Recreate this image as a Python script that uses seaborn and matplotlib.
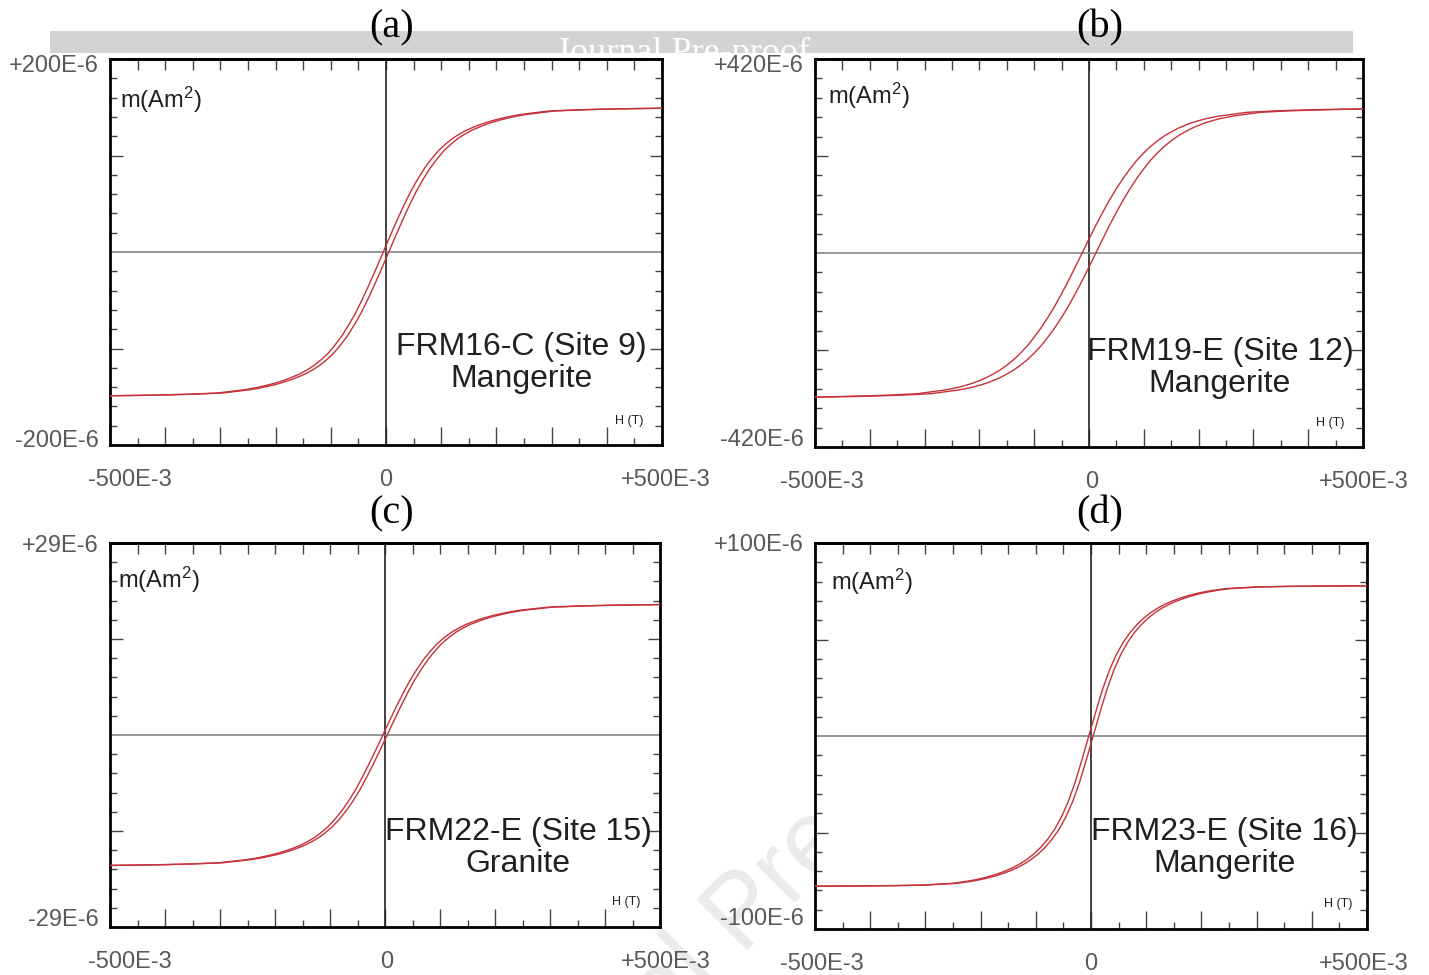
import matplotlib
matplotlib.use("Agg")
import matplotlib.pyplot as plt
import matplotlib.transforms as mtransforms
from matplotlib.patches import Rectangle
import seaborn as sns

sns.set_theme(style="white")
plt.rcParams["font.family"] = ["Liberation Sans", "DejaVu Sans"]
plt.rcParams["mathtext.default"] = "regular"

# ---------------- data ----------------
# applied field H (T) of each measured point, descending and ascending branch
A_H_DESC = [-0.5, -0.455, -0.405, -0.355, -0.305, -0.255, -0.2425, -0.23, -0.2175, -0.205, -0.1925,
            -0.18, -0.1675, -0.155, -0.1425, -0.13, -0.1175, -0.105, -0.0925, -0.08, -0.0675, -0.055,
            -0.0425, -0.03, -0.0175, -0.005, 0.0075, 0.02, 0.0325, 0.045, 0.0575, 0.07, 0.0825, 0.095,
            0.1075, 0.12, 0.1325, 0.145, 0.1575, 0.17, 0.1825, 0.195, 0.2075, 0.22, 0.2325, 0.245,
            0.295, 0.345, 0.395, 0.445, 0.5]
A_H_ASC = [-0.5, -0.445, -0.395, -0.345, -0.295, -0.245, -0.2325, -0.22, -0.2075, -0.195, -0.1825,
           -0.17, -0.1575, -0.145, -0.1325, -0.12, -0.1075, -0.095, -0.0825, -0.07, -0.0575, -0.045,
           -0.0325, -0.02, -0.0075, 0.005, 0.0175, 0.03, 0.0425, 0.055, 0.0675, 0.08, 0.0925, 0.105,
           0.1175, 0.13, 0.1425, 0.155, 0.1675, 0.18, 0.1925, 0.205, 0.2175, 0.23, 0.2425, 0.255,
           0.305, 0.355, 0.405, 0.455, 0.5]
B_H_DESC = [-0.5, -0.4625, -0.4125, -0.3625, -0.3125, -0.2625, -0.25, -0.2375, -0.225, -0.2125, -0.2,
            -0.1875, -0.175, -0.1625, -0.15, -0.1375, -0.125, -0.1125, -0.1, -0.0875, -0.075, -0.0625,
            -0.05, -0.0375, -0.025, -0.0125, 0.0, 0.0125, 0.025, 0.0375, 0.05, 0.0625, 0.075, 0.0875,
            0.1, 0.1125, 0.125, 0.1375, 0.15, 0.1625, 0.175, 0.1875, 0.2, 0.2125, 0.225, 0.2375,
            0.2875, 0.3375, 0.3875, 0.4375, 0.5]
B_H_ASC = [-0.5, -0.4375, -0.3875, -0.3375, -0.2875, -0.2375, -0.225, -0.2125, -0.2, -0.1875, -0.175,
           -0.1625, -0.15, -0.1375, -0.125, -0.1125, -0.1, -0.0875, -0.075, -0.0625, -0.05, -0.0375,
           -0.025, -0.0125, 0.0, 0.0125, 0.025, 0.0375, 0.05, 0.0625, 0.075, 0.0875, 0.1, 0.1125,
           0.125, 0.1375, 0.15, 0.1625, 0.175, 0.1875, 0.2, 0.2125, 0.225, 0.2375, 0.25, 0.2625,
           0.3125, 0.3625, 0.4125, 0.4625, 0.5]
C_H_DESC = [-0.5, -0.454, -0.404, -0.354, -0.304, -0.254, -0.2415, -0.229, -0.2165, -0.204, -0.1915,
            -0.179, -0.1665, -0.154, -0.1415, -0.129, -0.1165, -0.104, -0.0915, -0.079, -0.0665, -0.054,
            -0.0415, -0.029, -0.0165, -0.004, 0.0085, 0.021, 0.0335, 0.046, 0.0585, 0.071, 0.0835, 0.096,
            0.1085, 0.121, 0.1335, 0.146, 0.1585, 0.171, 0.1835, 0.196, 0.2085, 0.221, 0.2335, 0.246,
            0.296, 0.346, 0.396, 0.446, 0.5]
C_H_ASC = [-0.5, -0.446, -0.396, -0.346, -0.296, -0.246, -0.2335, -0.221, -0.2085, -0.196, -0.1835,
           -0.171, -0.1585, -0.146, -0.1335, -0.121, -0.1085, -0.096, -0.0835, -0.071, -0.0585, -0.046,
           -0.0335, -0.021, -0.0085, 0.004, 0.0165, 0.029, 0.0415, 0.054, 0.0665, 0.079, 0.0915, 0.104,
           0.1165, 0.129, 0.1415, 0.154, 0.1665, 0.179, 0.1915, 0.204, 0.2165, 0.229, 0.2415, 0.254,
           0.304, 0.354, 0.404, 0.454, 0.5]
D_H_DESC = [-0.5, -0.454, -0.404, -0.354, -0.304, -0.254, -0.2415, -0.229, -0.2165, -0.204, -0.1915,
            -0.179, -0.1665, -0.154, -0.1415, -0.129, -0.1165, -0.104, -0.0915, -0.079, -0.0665, -0.054,
            -0.0415, -0.029, -0.0165, -0.004, 0.0085, 0.021, 0.0335, 0.046, 0.0585, 0.071, 0.0835, 0.096,
            0.1085, 0.121, 0.1335, 0.146, 0.1585, 0.171, 0.1835, 0.196, 0.2085, 0.221, 0.2335, 0.246,
            0.296, 0.346, 0.396, 0.446, 0.5]
D_H_ASC = [-0.5, -0.446, -0.396, -0.346, -0.296, -0.246, -0.2335, -0.221, -0.2085, -0.196, -0.1835,
           -0.171, -0.1585, -0.146, -0.1335, -0.121, -0.1085, -0.096, -0.0835, -0.071, -0.0585, -0.046,
           -0.0335, -0.021, -0.0085, 0.004, 0.0165, 0.029, 0.0415, 0.054, 0.0665, 0.079, 0.0915, 0.104,
           0.1165, 0.129, 0.1415, 0.154, 0.1665, 0.179, 0.1915, 0.204, 0.2165, 0.229, 0.2415, 0.254,
           0.304, 0.354, 0.404, 0.454, 0.5]

# magnetic moment m (units of 1E-6 Am^2) at those points (same on both branches)
A_M = [-149, -148.6, -148.1, -147.3, -146.1, -142.6, -141.35, -140, -138.3, -136.5, -134.35, -132,
       -129.1, -126, -122, -117.5, -111.6, -105, -96.5, -87, -75.6, -63, -48.5, -33, -16.7, 0,
       16.7, 33, 48.5, 63, 75.6, 87, 96.5, 105, 111.6, 117.5, 122, 126, 129.1, 132, 134.35, 136.5,
       138.3, 140, 141.35, 142.6, 146.1, 147.3, 148.1, 148.6, 149]
B_M = [-312, -310.9, -309.5, -307.6, -304.5, -296.5, -293.6, -290.5, -286.4, -282, -276.3, -270,
       -262.1, -253.5, -242.9, -231, -216.8, -201, -182.3, -162, -139.5, -115, -88.2, -60, -30.2, 0,
       30.2, 60, 88.2, 115, 139.5, 162, 182.3, 201, 216.8, 231, 242.9, 253.5, 262.1, 270, 276.3, 282,
       286.4, 290.5, 293.6, 296.5, 304.5, 307.6, 309.5, 310.9, 312]
C_M = [-19.7, -19.64, -19.58, -19.47, -19.31, -18.85, -18.69, -18.51, -18.28, -18.05, -17.76, -17.45,
       -17.07, -16.66, -16.13, -15.53, -14.75, -13.88, -12.76, -11.5, -10.0, -8.33, -6.41, -4.36, -2.21, 0,
       2.21, 4.36, 6.41, 8.33, 10.0, 11.5, 12.76, 13.88, 14.75, 15.53, 16.13, 16.66, 17.07, 17.45, 17.76,
       18.05, 18.28, 18.51, 18.69, 18.85, 19.31, 19.47, 19.58, 19.64, 19.7]
D_M = [-77.8, -77.75, -77.65, -77.5, -77.2, -76.39, -75.97, -75.47, -74.87, -74.15, -73.3, -72.3,
       -71.15, -69.8, -68.2, -66.3, -64.0, -61.2, -57.8, -53.7, -48.6, -42.2, -34.2, -24.2, -12.4, 0,
       12.4, 24.2, 34.2, 42.2, 48.6, 53.7, 57.8, 61.2, 64.0, 66.3, 68.2, 69.8, 71.15, 72.3, 73.3, 74.15,
       74.87, 75.47, 75.97, 76.39, 77.2, 77.5, 77.65, 77.75, 77.8]

PANEL_LETTERS = ["(a)", "(b)", "(c)", "(d)"]
SAMPLES = ["FRM16-C (Site 9)", "FRM19-E (Site 12)", "FRM22-E (Site 15)", "FRM23-E (Site 16)"]
ROCKS = ["Mangerite", "Mangerite", "Granite", "Mangerite"]
Y_LIMITS = [200, 420, 29, 100]
Y_TOP_LABELS = ["+200E-6", "+420E-6", "+29E-6", "+100E-6"]
Y_BOTTOM_LABELS = ["-200E-6", "-420E-6", "-29E-6", "-100E-6"]
X_TICK_LABELS = ["-500E-3", "0", "+500E-3"]
Y_LABEL = "m(Am$^{2}$)"
X_LABEL = "H (T)"

H_DESC = [A_H_DESC, B_H_DESC, C_H_DESC, D_H_DESC]
H_ASC = [A_H_ASC, B_H_ASC, C_H_ASC, D_H_ASC]
MOMENT = [A_M, B_M, C_M, D_M]

# ---------------- layout ----------------
W, H = 1429, 975
fig = plt.figure(figsize=(W / 100, H / 100), dpi=100)
fig.patch.set_facecolor("white")

BOXES = [(110, 59, 662, 445), (815, 59, 1363, 447), (110, 543, 660, 927), (815, 543, 1367, 929)]
TITLE_POS = [(392, 28), (1100, 28), (392, 514), (1100, 514)]
XLAB_SHIFT = [(20, 0, 4), (7, 3, 1), (20, 2, 6), (7, 0, -3)]
YLAB_SHIFT = [(4, -7), (7, -7), (7, -3), (10, -2)]   # (bottom label up, top label down) px
SAMPLE_POS = [(0.745, 0.212), (0.739, 0.204), (0.742, 0.206), (0.741, 0.210)]
HT_POS = [(0.940, 0.062), (0.940, 0.062), (0.938, 0.065), (0.947, 0.065)]
M_POS = [(0.018, 0.894), (0.024, 0.905), (0.015, 0.904), (0.029, 0.899)]

RED = "#c5323a"
TICK_GREY = "#58595b"
INK = "#231f20"

x_major = [i / 10 for i in range(-5, 6)]
x_minor = [i / 20 for i in range(-9, 10, 2)]
x_all = [i / 20 for i in range(-10, 11)]

for k in range(4):
    l, t, r, b = BOXES[k]
    ax = fig.add_axes([l / W, 1 - b / H, (r - l) / W, (b - t) / H])
    ax.set_facecolor("white")
    ym = Y_LIMITS[k]

    ax.axvline(0, color=INK, lw=1.2, zorder=1)
    ax.axhline(0, color="#7a7b7e", lw=1.1, zorder=1)

    sns.lineplot(x=H_DESC[k], y=MOMENT[k], sort=False, estimator=None, ax=ax,
                 color=RED, linewidth=1.0, zorder=3)
    sns.lineplot(x=H_ASC[k], y=MOMENT[k], sort=False, estimator=None, ax=ax,
                 color=RED, linewidth=1.0, zorder=3)

    ax.set_xlim(-0.5, 0.5)
    ax.set_ylim(-ym, ym)
    ax.set_xlabel("")
    ax.set_ylabel("")
    ax.grid(False)

    xlabels = [""] * len(x_major)
    xlabels[0], xlabels[5], xlabels[10] = X_TICK_LABELS
    ax.set_xticks(x_major)
    ax.set_xticklabels(xlabels)
    ax.set_xticks(x_minor, minor=True)
    ax.tick_params(axis="x", which="major", direction="in", length=13, width=1.0,
                   bottom=True, top=False, pad=17, labelsize=17, labelcolor=TICK_GREY,
                   color="#444444")
    ax.tick_params(axis="x", which="minor", direction="in", length=5, width=1.0,
                   bottom=True, top=False, color="#444444")

    ax.set_yticks([-ym, -ym / 2, ym / 2, ym])
    ax.set_yticklabels([Y_BOTTOM_LABELS[k], "", "", Y_TOP_LABELS[k]])
    ax.set_yticks([ym * i / 10 for i in range(-9, 10) if i not in (-5, 0, 5)], minor=True)
    ax.tick_params(axis="y", which="major", direction="in", length=9, width=1.0,
                   left=True, right=True, pad=8, labelsize=17, labelcolor=TICK_GREY,
                   color="#444444")
    ax.tick_params(axis="y", which="minor", direction="in", length=5, width=1.0,
                   left=True, right=True, color="#444444")

    ylabs = ax.get_yticklabels()
    for idx, dy in zip((0, 3), YLAB_SHIFT[k]):
        ylabs[idx].set_va("center")
        off = mtransforms.ScaledTranslation(0, dy / 100, fig.dpi_scale_trans)
        ylabs[idx].set_transform(ylabs[idx].get_transform() + off)

    xl = ax.get_xticklabels()
    for idx, dx in zip((0, 5, 10), XLAB_SHIFT[k]):
        off = mtransforms.ScaledTranslation(dx / 100, 0, fig.dpi_scale_trans)
        xl[idx].set_transform(xl[idx].get_transform() + off)

    top = ax.secondary_xaxis("top")
    top.set_xticks(x_all)
    top.tick_params(direction="in", length=8, width=1.0, labeltop=False, color="#444444")
    top.spines["top"].set_linewidth(2.0)
    top.spines["top"].set_color("black")

    for s in ax.spines.values():
        s.set_visible(True)
        s.set_color("black")
        s.set_linewidth(2.0)

    ax.text(M_POS[k][0], M_POS[k][1], Y_LABEL, transform=ax.transAxes, fontsize=17,
            color=INK, ha="left", va="center")
    ax.text(HT_POS[k][0], HT_POS[k][1], X_LABEL, transform=ax.transAxes, fontsize=9,
            color=INK, ha="center", va="center")
    ax.text(SAMPLE_POS[k][0], SAMPLE_POS[k][1], SAMPLES[k] + "\n" + ROCKS[k],
            transform=ax.transAxes, fontsize=23, color=INK, ha="center", va="center",
            multialignment="center", linespacing=1.1, zorder=5)

    tx, ty = TITLE_POS[k]
    fig.text(tx / W, 1 - ty / H, PANEL_LETTERS[k], family=["Liberation Serif"],
             fontsize=29, color="black", ha="center", va="center", zorder=6)

# journal banner
fig.add_artist(Rectangle((50 / W, 1 - 53 / H), (1353 - 50) / W, 22 / H,
                         transform=fig.transFigure, facecolor="#d1d3d4",
                         edgecolor="none", zorder=-3))
fig.text(683 / W, 1 - 62 / H, "Journal Pre-proof", family=["Liberation Serif"],
         fontsize=26, color="white", ha="center", va="baseline", zorder=-2)

# diagonal watermark
fig.text(745 / W, 1 - 915 / H, "Journal Pre-proof", family=["Liberation Sans"],
         fontsize=74, color="#ebebeb", ha="center", va="center", rotation=45,
         rotation_mode="anchor", zorder=-4)

fig.savefig("out.png", dpi=100, facecolor="white")
